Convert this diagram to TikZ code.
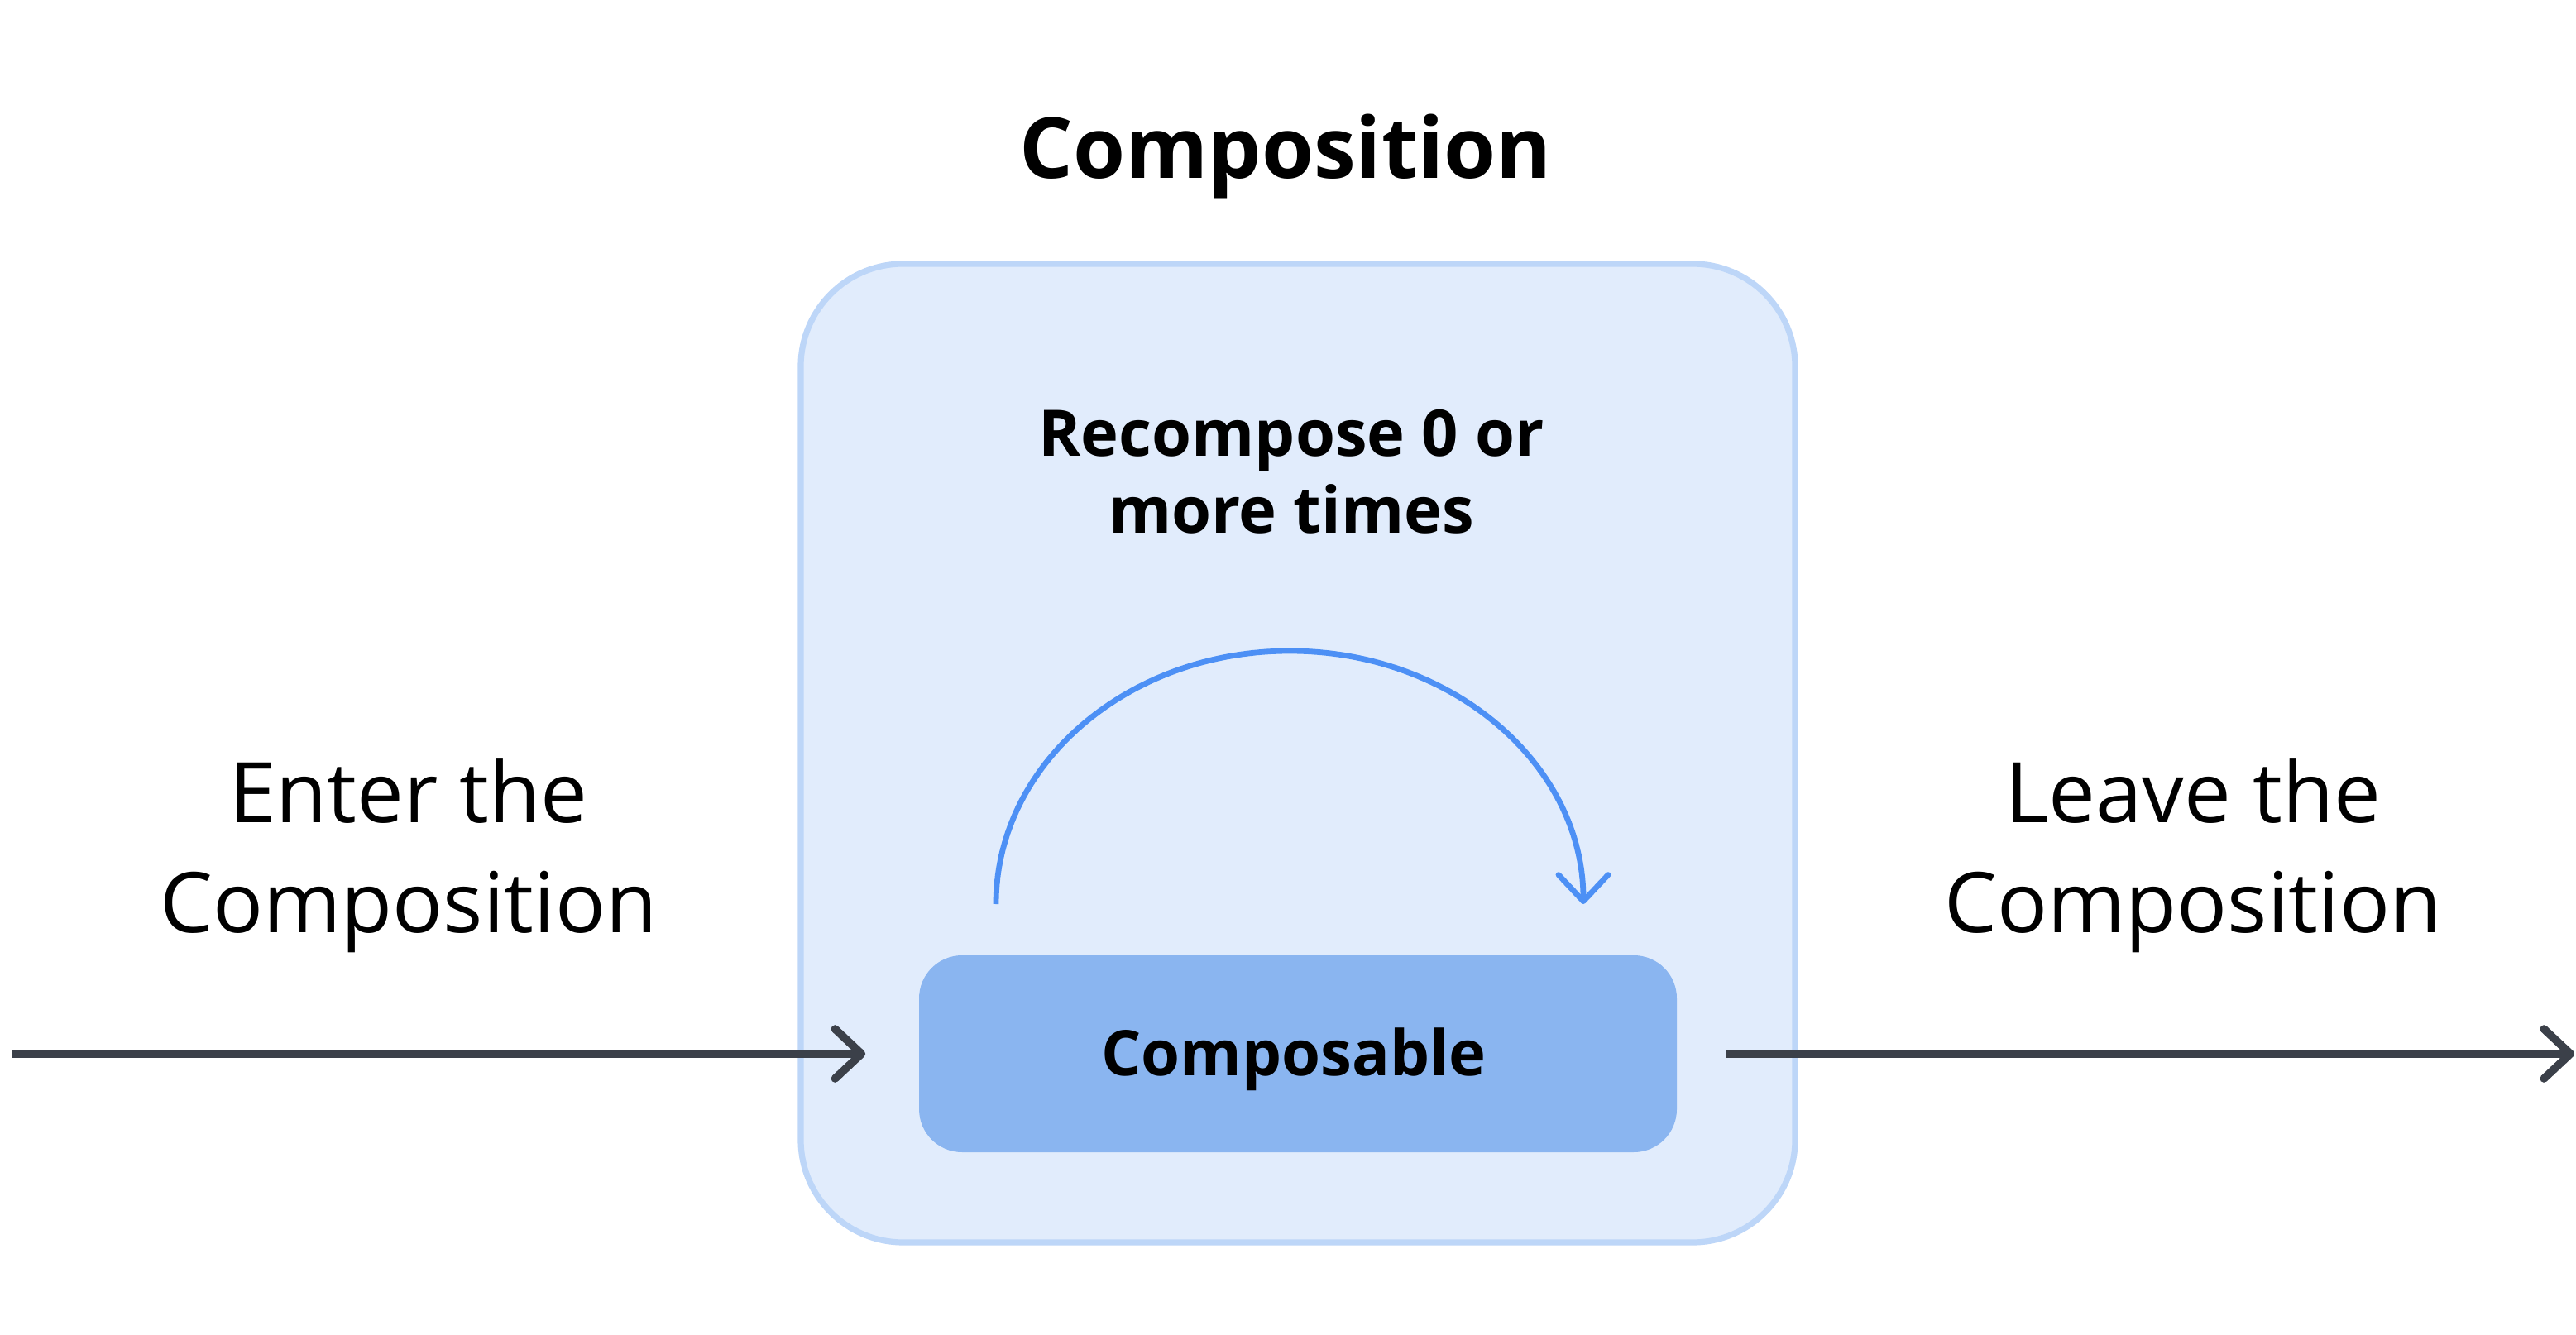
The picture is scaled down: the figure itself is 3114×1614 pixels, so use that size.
\documentclass[tikz,border=0pt]{standalone}
\usepackage{fontspec}
\setmainfont{Open Sans}
\usetikzlibrary{arrows.meta}
\definecolor{outerfill}{HTML}{E1ECFC}
\definecolor{outerline}{HTML}{BDD6F8}
\definecolor{innerfill}{HTML}{8AB5F0}
\definecolor{arcblue}{HTML}{4D90F5}
\definecolor{darkline}{HTML}{3B4049}
\begin{document}
\begin{tikzpicture}[x=0.25pt,y=-0.25pt,
  outerbox/.style={draw=outerline, line width=1.8pt, fill=outerfill, rounded corners=31pt,
    minimum width=300.5pt, minimum height=295.75pt, inner sep=0pt},
  innerbox/.style={fill=innerfill, rounded corners=13pt, minimum width=229pt, minimum height=59.5pt,
    inner sep=0pt},
  flowarrow/.style={draw=darkline, line width=2.4pt, -{Straight Barb[length=8pt,width=15pt,round]}},
  looparrow/.style={draw=arcblue, line width=1.7pt, -{Straight Barb[length=8pt,width=15pt,round]}},
  sidelabel/.style={align=center, font=\fontsize{25.3pt}{33.25pt}\selectfont, inner sep=0pt},
  looplabel/.style={align=center, font=\bfseries\fontsize{19.4pt}{23.25pt}\selectfont, inner sep=0pt},
  titlelabel/.style={font=\bfseries\fontsize{25.5pt}{30pt}\selectfont, inner sep=0pt},
  complabelstyle/.style={font=\bfseries\fontsize{19pt}{23pt}\selectfont, inner sep=0pt}
]
\useasboundingbox (0,0) rectangle (3114,1614);
\fill[white] (0,0) rectangle (3114,1614);
\node[titlelabel, anchor=base] (title) at (1554,216) {Composition};
\node[outerbox] (outer) at (1569,910.5) {};
\node[innerbox] (comp) at (1569,1274) {};
\node[complabelstyle, anchor=base] (complabel) at (1564,1300) {Composable};
\node[looplabel] (loop) at (1561,570) {Recompose 0 or\\more times};
\node[sidelabel] (enter) at (494,1035) {Enter the\\Composition};
\node[sidelabel] (leave) at (2651,1035) {Leave the\\Composition};
\coordinate (lstart) at (15,1274);
\coordinate (rend) at (3112,1274);
\coordinate (arcL) at (1204,1093);
\draw[flowarrow] (lstart) -- ([xshift=-16pt]comp.west);
\draw[flowarrow] ([xshift=14.5pt]comp.east) -- (rend);
\draw[looparrow] (arcL) arc[start angle=180, end angle=0, x radius=88.75pt, y radius=76.5pt];
\end{tikzpicture}
\end{document}
